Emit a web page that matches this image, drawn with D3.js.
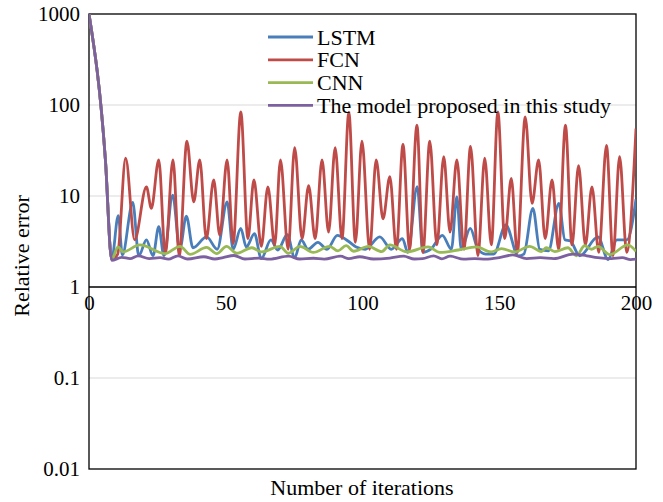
<!DOCTYPE html>
<html>
<head>
<meta charset="utf-8">
<script src="https://cdn.jsdelivr.net/npm/d3@7"></script>
<style>
  body { margin: 0; background: #fff; }
  text { font-family: "Liberation Serif", "Times New Roman", serif; fill: #000; }
</style>
</head>
<body>
<div id="chart"></div>
<script>
// [iteration, relative error]
const lstm = [[0,1000],[6,25],[8.3,2.0],[10.7,6.1],[12.2,2.25],[16,8.5],[18.2,2.2],[21,3.3],[23.4,2.2],[25.5,4.6],[27.4,2.2],[30.6,10.2],[33.2,2.6],[35.6,6.0],[38,2.7],[43,3.55],[46.9,2.6],[50.5,8.6],[52.7,2.6],[55.5,4.4],[57.5,2.75],[60.5,3.85],[63,2.05],[66.5,3.3],[69,2.55],[72.5,3.75],[75.2,2.1],[77.6,3.3],[80.1,2.6],[83.7,3.1],[87,2.6],[90.8,3.7],[94.7,3.2],[97.7,2.75],[101,2.6],[106.3,3.55],[110.5,2.6],[114.6,3.4],[116.6,2.4],[120,12.7],[122.1,2.4],[125,2.6],[129.2,3.7],[132.5,2.6],[134.5,9.8],[136.1,2.6],[139.4,4.4],[142.2,2.6],[145,2.3],[148,2.3],[152.4,4.8],[156.9,2.2],[159,2.3],[162.3,7.3],[164.8,2.6],[168,2.5],[171.8,8.3],[174,3.3],[176,3.2],[179.4,2.2],[186.1,3.55],[189.8,2.0],[193,3.3],[196.7,3.3],[200,9.2]]

const fcn = [[0,1000],[6,25],[8.3,2.0],[10.5,2.3],[13.4,26],[16.7,3.3],[21,12.6],[22.8,7.3],[25.5,25],[27.9,2.3],[30.7,25],[33,2.2],[35.8,40],[38.3,8.6],[40.5,25],[42.9,3.4],[45.6,15],[47.8,3.7],[50.5,25],[52.7,3.0],[55.5,84],[58.1,3.4],[60.3,15],[63,2.8],[65.4,12.6],[67.9,2.9],[70,25],[72.8,2.6],[75.2,34],[77.9,3.4],[80.3,13],[82.7,3.4],[85.2,25],[87.6,4.0],[90,34],[92.5,3.4],[95,83],[97.4,3.1],[99.8,40],[102.6,2.6],[105,25],[107.5,5.6],[110,16.3],[112.4,2.6],[114.8,37],[117.2,2.6],[119.9,60],[122.1,2.4],[124.6,40],[127.2,2.9],[129.7,27],[132,4.0],[134.5,25],[137.1,2.6],[139.5,35],[142.2,2.2],[144.7,26],[147.1,2.9],[149.5,84],[152,3.4],[154.4,15.6],[156.6,2.4],[159.5,74],[162,8.3],[164.4,25],[166.8,3.4],[169.3,15],[171.7,2.6],[174.2,60],[176.6,2.9],[179,21.5],[181.5,2.9],[183.9,12.6],[186.4,2.4],[189.2,36],[191.6,2.2],[194,27],[196.6,2.4],[200,55]]

const cnn = [[0,1000],[6,25],[8.3,2.0],[10.6,2.76],[12.5,2.43],[18.6,2.9],[27.8,2.33],[33.3,2.8],[37,2.28],[43,2.72],[46.7,2.33],[50.3,2.8],[54,2.35],[59.5,2.7],[63.1,2.43],[69.8,2.8],[72.9,2.35],[77.1,2.8],[82,2.4],[88,2.8],[91,2.5],[94,2.85],[96.8,2.47],[102.1,2.8],[107,2.45],[110,2.9],[116.2,2.43],[124,2.76],[128.3,2.4],[135,2.55],[141.7,2.76],[147,2.43],[150.8,2.64],[155.6,2.43],[161.1,2.8],[165.4,2.45],[167.2,2.7],[170.3,2.45],[175.1,2.7],[178.2,2.2],[181.2,2.84],[183.7,2.6],[186.1,2.8],[190.4,2.27],[197,2.9],[200,2.47]]

const proposed = [[0,1000],[6,25],[8.3,1.96],[12,2.12],[15,2.05],[18,2.2],[22,2.05],[26,2.1],[29,2.02],[32.5,2.2],[36,2.03],[42,2.15],[46,2.03],[49,2.1],[53,2.22],[57,2.03],[62,2.08],[66,2.02],[73,2.18],[77,2.03],[82,2.07],[86,2.02],[92,2.18],[95,2.05],[99,2.15],[104,2.03],[110,2.08],[115,2.18],[119,2.03],[122,2.05],[126,2.2],[129,2.04],[132,2.18],[137,2.02],[141,2.05],[145,2.02],[150,2.1],[155,2.25],[160,2.05],[165,2.1],[170,2.05],[177,2.3],[182,2.2],[186,2.1],[191,2.05],[195,2.1],[198,2.0],[200,2.02]]

const seriesNames = ["LSTM", "FCN", "CNN", "The model proposed in this study"]
const seriesColors = ["#4a7ebb", "#be4b48", "#98b954", "#7d60a0"]
const xTicks = [0, 50, 100, 150, 200]
const yTicks = [0.01, 0.1, 1, 10, 100, 1000]
const yTickLabels = ["0.01", "0.1", "1", "10", "100", "1000"]

const W = 663, H = 502
const plot = {left: 89, right: 636, top: 14, bottom: 469}
const serif = "Liberation Serif, Times New Roman, serif"

const x = d3.scaleLinear().domain([0, 200]).range([plot.left, plot.right])
const y = d3.scaleLog().domain([0.01, 1000]).range([plot.bottom, plot.top])

const svg = d3.select("#chart")
  .append("svg")
    .attr("width", W)
    .attr("height", H)

svg.append("defs").append("clipPath").attr("id", "clip")
  .append("rect")
    .attr("x", plot.left).attr("y", plot.top)
    .attr("width", plot.right - plot.left).attr("height", plot.bottom - plot.top)

// gridlines
svg.append("g")
  .selectAll("line")
  .data(yTicks.filter(d => d != 1 && d != 0.01 && d != 1000))
  .enter()
  .append("line")
    .attr("x1", plot.left).attr("x2", plot.right)
    .attr("y1", d => y(d)).attr("y2", d => y(d))
    .style("stroke", "#d9d9d9")
    .style("stroke-width", 1.2)

// y labels
svg.append("g")
  .attr("transform", "translate(" + plot.left + ",0)")
  .call(d3.axisLeft(y).tickValues(yTicks).tickSize(0).tickPadding(9)
    .tickFormat((d, i) => yTickLabels[i]))
  .attr("font-family", serif)
  .attr("font-size", 21)
  .call(g => g.select(".domain").remove())

// x axis crosses at y = 1
svg.append("g")
  .attr("transform", "translate(0," + y(1) + ")")
  .call(d3.axisBottom(x).tickValues(xTicks).tickSize(0).tickPadding(8))
  .attr("font-family", serif)
  .attr("font-size", 21)
  .call(g => g.select(".domain").remove())

svg.append("line")
  .attr("x1", plot.left).attr("x2", plot.right)
  .attr("y1", y(1)).attr("y2", y(1))
  .style("stroke", "#000").style("stroke-width", 1.3)

// frame
svg.append("rect")
  .attr("x", plot.left).attr("y", plot.top)
  .attr("width", plot.right - plot.left).attr("height", plot.bottom - plot.top)
  .style("fill", "none").style("stroke", "#000").style("stroke-width", 1.3)

const line = d3.line()
  .x(d => x(d[0]))
  .y(d => y(d[1]))
  .curve(d3.curveMonotoneX)

const allSeries = [lstm, fcn, cnn, proposed]

svg.append("g")
  .attr("clip-path", "url(#clip)")
  .selectAll("path")
  .data(allSeries)
  .enter()
  .append("path")
    .attr("d", line)
    .style("fill", "none")
    .style("stroke", (d, i) => seriesColors[i])
    .style("stroke-width", 2.8)
    .style("stroke-linejoin", "round")

// legend
const legend = svg.append("g").attr("transform", "translate(268,37)")
seriesNames.forEach((name, i) => {
  legend.append("line")
    .attr("x1", 0).attr("x2", 45)
    .attr("y1", i * 22.8).attr("y2", i * 22.8)
    .style("stroke", seriesColors[i])
    .style("stroke-width", 2.8)
  legend.append("text")
    .attr("x", 49)
    .attr("y", i * 22.8 + 7.5)
    .style("font-size", "22px")
    .text(name)
})

// axis titles
svg.append("text")
  .attr("text-anchor", "middle")
  .attr("transform", "translate(29,256) rotate(-90)")
  .style("font-size", "22px")
  .text("Relative error")

svg.append("text")
  .attr("text-anchor", "middle")
  .attr("x", 362)
  .attr("y", 495)
  .style("font-size", "22px")
  .text("Number of iterations")
</script>
</body>
</html>
